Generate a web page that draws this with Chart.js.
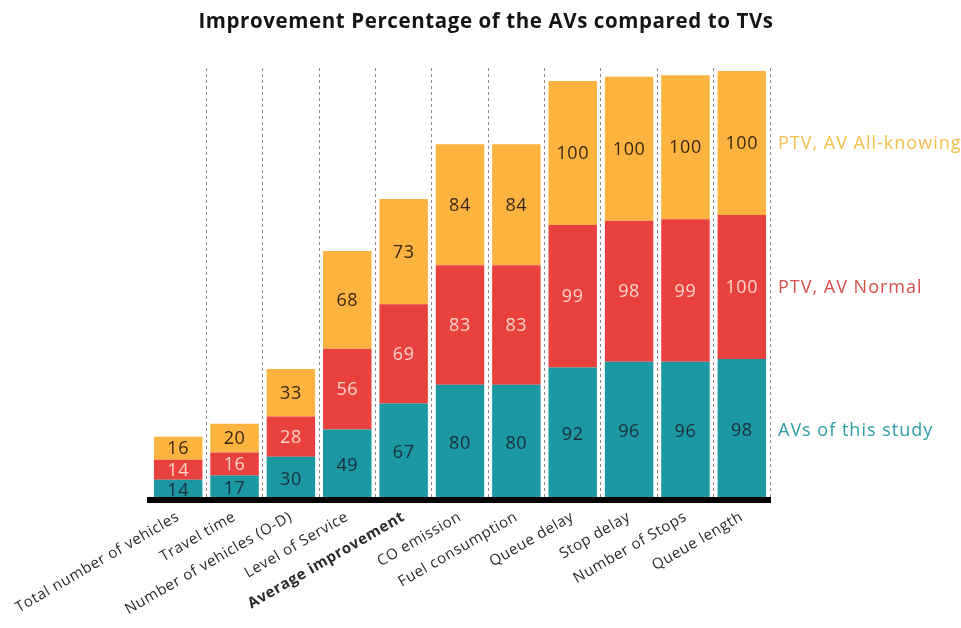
<!DOCTYPE html>
<html>
<head>
<meta charset="utf-8">
<script src="https://cdn.jsdelivr.net/npm/chart.js@4/dist/chart.umd.min.js"></script>
<style>
  html, body { margin: 0; padding: 0; background: #fff; }
  #wrap { width: 961px; height: 628px; }
</style>
</head>
<body>
<div id="wrap"><canvas id="chart"></canvas></div>
<script>
const categories = [
  'Total number of vehicles', 'Travel time', 'Number of vehicles (O-D)', 'Level of Service',
  'Average improvement', 'CO emission', 'Fuel consumption', 'Queue delay',
  'Stop delay', 'Number of Stops', 'Queue length'
];
const avsThisStudy = [14, 17, 30, 49, 67, 80, 80, 92, 96, 96, 98];
const ptvNormal = [14, 16, 28, 56, 69, 83, 83, 99, 98, 99, 100];
const ptvAllKnowing = [16, 20, 33, 68, 73, 84, 84, 100, 100, 100, 100];
const seriesNames = ['AVs of this study', 'PTV, AV Normal', 'PTV, AV All-knowing'];
const chartTitle = 'Improvement Percentage of the AVs compared to TVs';

const FONT = '"Open Sans", sans-serif';
const fills = ['#1b98a2', '#e8413e', '#fdb33f'];
const valueColors = ['#1c2d3c', '#fbd3c8', '#3a2815'];
const sideColors = ['#2a9ca6', '#d9504c', '#f6be4a'];

// wider letter spacing, closer to the original typeface
const spacing = {
  id: 'spacing',
  beforeLayout(chart) { chart.ctx.letterSpacing = '0.6px'; },
  beforeDraw(chart) { chart.ctx.letterSpacing = '0.6px'; }
};

// title centred on the page, not on the plot
const pageTitle = {
  id: 'pageTitle',
  afterDraw(chart) {
    const ctx = chart.ctx;
    ctx.save();
    ctx.font = 'bold 20.5px ' + FONT;
    ctx.fillStyle = '#141414';
    ctx.textAlign = 'center';
    ctx.textBaseline = 'middle';
    ctx.fillText(chartTitle, 486, 22);
    ctx.restore();
  }
};

// numbers inside segments + series names beside the last bar
const segmentLabels = {
  id: 'segmentLabels',
  afterDatasetsDraw(chart) {
    const ctx = chart.ctx;
    ctx.save();
    ctx.textAlign = 'center';
    ctx.textBaseline = 'middle';
    chart.data.datasets.forEach((ds, i) => {
      const meta = chart.getDatasetMeta(i);
      ctx.font = '18px ' + FONT;
      ctx.fillStyle = valueColors[i];
      meta.data.forEach((bar, j) => {
        ctx.fillText(ds.data[j], bar.x, (bar.y + bar.base) / 2 + 1);
      });
      const last = meta.data[meta.data.length - 1];
      ctx.save();
      ctx.textAlign = 'left';
      ctx.letterSpacing = '1px';
      ctx.font = '18px ' + FONT;
      ctx.fillStyle = sideColors[i];
      ctx.fillText(ds.label, chart.chartArea.right + 8, (last.y + last.base) / 2 + 1);
      ctx.restore();
    });
    ctx.restore();
  }
};

new Chart(document.getElementById('chart'), {
  type: 'bar',
  data: {
    labels: categories,
    datasets: [
      { label: seriesNames[0], data: avsThisStudy, backgroundColor: fills[0] },
      { label: seriesNames[1], data: ptvNormal, backgroundColor: fills[1] },
      { label: seriesNames[2], data: ptvAllKnowing, backgroundColor: fills[2] }
    ]
  },
  options: {
    responsive: true,
    maintainAspectRatio: false,
    animation: false,
    layout: { padding: { left: 150, right: 191, top: 68, bottom: 0 } },
    datasets: { bar: { categoryPercentage: 1, barPercentage: 0.86 } },
    plugins: {
      legend: { display: false },
      tooltip: { enabled: false },
      title: { display: false }
    },
    scales: {
      x: {
        stacked: true,
        grid: {
          offset: true,
          drawTicks: false,
          color: ctx => ctx.index === 0 ? 'rgba(0,0,0,0)' : '#8a8a8a',
          lineWidth: 1
        },
        border: { display: true, color: '#000', width: 6, dash: [3, 3], z: 1 },
        ticks: {
          minRotation: 30,
          maxRotation: 30,
          padding: 8,
          color: '#2a2a2a',
          font: ctx => ({ family: FONT, size: 15, weight: ctx.index === 4 ? 'bold' : 'normal' })
        },
        afterFit: scale => { scale.height = 128; }
      },
      y: {
        stacked: true,
        display: false,
        min: 0,
        max: 300
      }
    }
  },
  plugins: [spacing, pageTitle, segmentLabels]
});
</script>
</body>
</html>
